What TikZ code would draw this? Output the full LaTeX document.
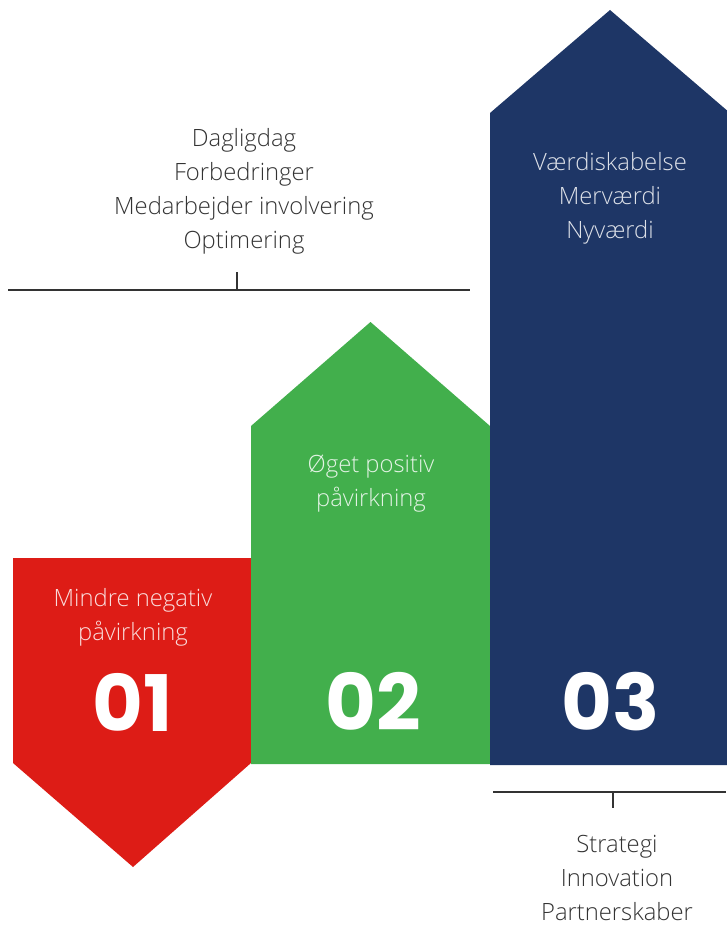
\documentclass[tikz,border=0pt]{standalone}
\usepackage{fontspec}
\setmainfont{Open Sans}[UprightFont=* Light, BoldFont=* Bold]
\newfontfamily\numfont{Poppins}[UprightFont=* Bold]
\definecolor{cred}{HTML}{DD1C16}
\definecolor{cgreen}{HTML}{42AF4C}
\definecolor{cnavy}{HTML}{1E3666}
\definecolor{ctext}{HTML}{333333}
\begin{document}
\begin{tikzpicture}[x=1pt,y=-1pt,
  lbl/.style={align=center,inner sep=0pt,font=\fontsize{23.8}{34}\selectfont},
  darklbl/.style={lbl,text=ctext},
  inlbl/.style={lbl,text=white,text opacity=0.85},
  numlbl/.style={inner sep=0pt,text=white,font=\numfont\fontsize{78}{78}\selectfont},
  bracket/.style={draw=ctext,line width=2pt}]
\useasboundingbox (0,0) rectangle (726,925);
% shapes
\fill[cred] (13,558) -- (251,558) -- (251,763) -- (133,867) -- (13,763) -- cycle;
\fill[cgreen] (251,426) -- (370.5,322) -- (490,426) -- (490,764) -- (251,764) -- cycle;
\fill[cnavy] (490,113) -- (610,10) -- (730,113) -- (730,765) -- (490,765) -- cycle;
% brackets
\coordinate (t1) at (8,290); \coordinate (t2) at (470,290);
\coordinate (tm) at (237,290); \coordinate (tt) at (237,272);
\draw[bracket] (t1) -- (t2);
\draw[bracket] (tm) -- (tt);
\coordinate (b1) at (493,792); \coordinate (b2) at (726,792);
\coordinate (bm) at (613,792); \coordinate (bb) at (613,808);
\draw[bracket] (b1) -- (b2);
\draw[bracket] (bm) -- (bb);
% texts
\node[darklbl] (top) at (244,191) {Dagligdag\\Forbedringer\\Medarbejder involvering\\Optimering};
\node[darklbl] (bot) at (617,878) {Strategi\\Innovation\\Partnerskaber};
\node[inlbl] (redt) at (133,617) {Mindre negativ\\påvirkning};
\node[inlbl] (grnt) at (371,484) {Øget positiv\\påvirkning};
\node[inlbl] (navt) at (610,198) {Værdiskabelse\\Merværdi\\Nyværdi};
\node[numlbl] (n1) at (133,702) {01};
\node[numlbl] (n2) at (373,701) {02};
\node[numlbl] (n3) at (611,702) {03};
\end{tikzpicture}
\end{document}
